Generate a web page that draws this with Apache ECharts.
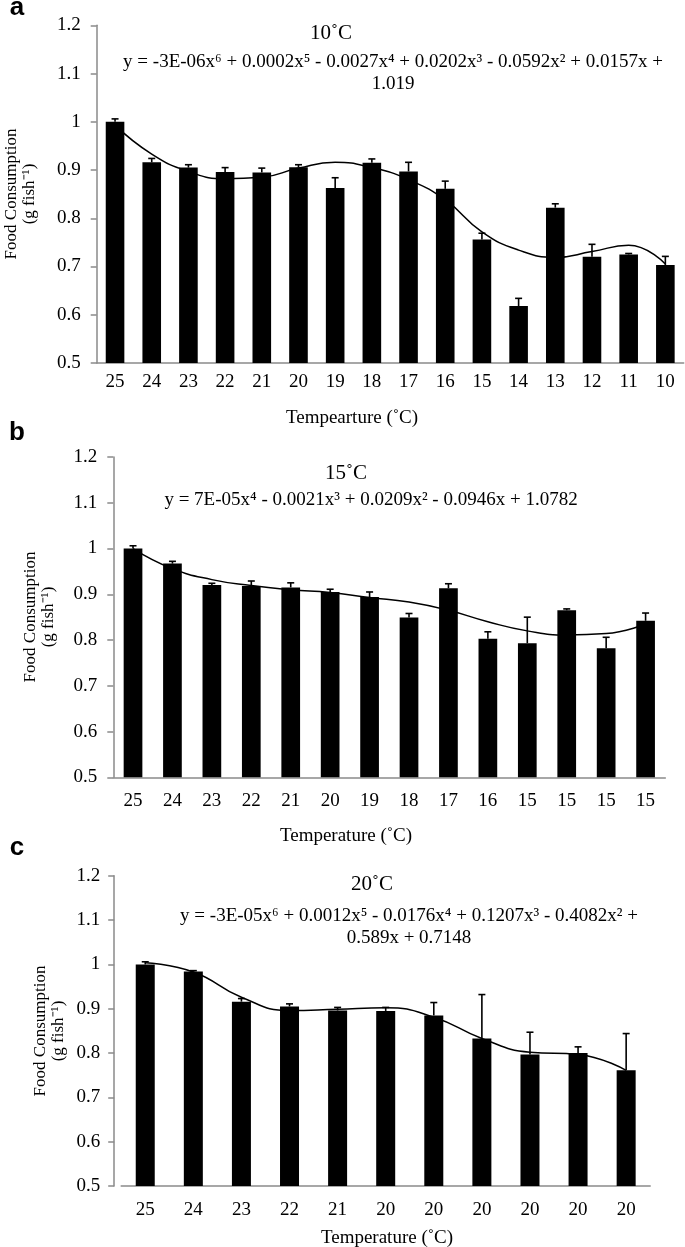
<!DOCTYPE html>
<html><head><meta charset="utf-8">
<script src="https://cdn.jsdelivr.net/npm/echarts@6/dist/echarts.min.js"></script>
<style>html,body{margin:0;padding:0;background:#fff}#c{width:685px;height:1247px}</style>
</head><body><div id="c"></div>
<script>
// ---- data ----
const catsA = ['25','24','23','22','21','20','19','18','17','16','15','14','13','12','11','10'];
const valsA = [1.000,0.916,0.905,0.896,0.895,0.906,0.863,0.915,0.897,0.861,0.756,0.618,0.822,0.720,0.725,0.703];
const errA  = [0.006,0.008,0.006,0.009,0.009,0.005,0.021,0.008,0.019,0.016,0.013,0.016,0.008,0.026,0.002,0.018];
const trendA = [0.993,0.933,0.897,0.882,0.885,0.904,0.916,0.905,0.880,0.838,0.772,0.734,0.719,0.731,0.744,0.705];

const catsB = ['25','24','23','22','21','20','19','18','17','16','15','15','15','15'];
const valsB = [1.000,0.967,0.920,0.918,0.915,0.905,0.894,0.849,0.913,0.803,0.793,0.865,0.782,0.842];
const errB  = [0.006,0.005,0.004,0.011,0.010,0.006,0.011,0.009,0.010,0.015,0.057,0.003,0.024,0.017];
const trendB = [1.000,0.956,0.932,0.919,0.910,0.904,0.893,0.883,0.865,0.840,0.820,0.811,0.814,0.835];

const catsC = ['25','24','23','22','21','20','20','20','20','20','20'];
const valsC = [1.000,0.984,0.916,0.905,0.896,0.895,0.885,0.833,0.797,0.800,0.761];
const errC  = [0.006,0.002,0.007,0.006,0.007,0.008,0.029,0.099,0.050,0.014,0.083];
const trendC = [1.004,0.983,0.926,0.896,0.899,0.902,0.881,0.833,0.802,0.797,0.761];

const yTicks = [0.5,0.6,0.7,0.8,0.9,1.0,1.1,1.2];
const titles = ['10˚C','15˚C','20˚C'];
const equations = [
  'y = -3E-06x⁶ + 0.0002x⁵ - 0.0027x⁴ + 0.0202x³ - 0.0592x² + 0.0157x +\n1.019',
  'y = 7E-05x⁴ - 0.0021x³ + 0.0209x² - 0.0946x + 1.0782',
  'y = -3E-05x⁶ + 0.0012x⁵ - 0.0176x⁴ + 0.1207x³ - 0.4082x² +\n0.589x + 0.7148'
];
const xNames = ['Tempearture (˚C)','Temperature (˚C)','Temperature (˚C)'];
const yName = 'Food Consumption\n(g fish⁻¹)';
const letters = ['a','b','c'];

// ---- chart ----
const SERIF = '"Liberation Serif","Times New Roman",serif';
const chart = echarts.init(document.getElementById('c'), null, {renderer:'canvas'});

const panels = [
  {cats:catsA, vals:valsA, err:errA, trend:trendA, grid:{left:96.7, top:25.3, width:587, height:337.7}, barW:18.6, xMargin:10, yMargin:16, yOffset:0},
  {cats:catsB, vals:valsB, err:errB, trend:trendB, grid:{left:113.3, top:457, width:552, height:320.3}, barW:18.7, xMargin:14, yMargin:16, yOffset:0},
  {cats:catsC, vals:valsC, err:errC, trend:trendC, grid:{left:121.2, top:875.8, width:529, height:310.2}, barW:19, xMargin:15, yMargin:14, yOffset:7}
];

const grids=[], xAxes=[], yAxes=[], series=[];
panels.forEach((p,i)=>{
  grids.push(Object.assign({containLabel:false}, p.grid));
  xAxes.push({
    type:'category', gridIndex:i, data:p.cats,
    axisLine:{show:true, lineStyle:{color:'#8a8a8a', width:1.5}},
    axisTick:{show:false},
    axisLabel:{color:'#000', fontFamily:SERIF, fontSize:19, margin:p.xMargin, interval:0}
  });
  yAxes.push({
    type:'value', gridIndex:i, min:0.5, max:1.2, interval:0.1, offset:p.yOffset,
    splitLine:{show:false},
    axisLine:{show:true, lineStyle:{color:'#8a8a8a', width:1.5}},
    axisTick:{show:true, length:6, lineStyle:{color:'#8a8a8a', width:1.5}},
    axisLabel:{color:'#000', fontFamily:SERIF, fontSize:19, margin:p.yMargin,
      formatter:v=>{const r=Math.round(v*10)/10; return yTicks.includes(r)? String(r):'';}}
  });
  series.push({
    type:'bar', xAxisIndex:i, yAxisIndex:i, data:p.vals, barWidth:p.barW,
    itemStyle:{color:'#000'}, z:2, silent:true
  });
  series.push({
    type:'custom', xAxisIndex:i, yAxisIndex:i, z:3, silent:true,
    data:p.vals.map((v,k)=>[k, v, p.err[k]]),
    encode:{x:0, y:1},
    renderItem:(params, api)=>{
      const k=api.value(0), v=api.value(1), e=api.value(2);
      const a=api.coord([k, v]), b=api.coord([k, v+e]);
      const hw=3.5;
      return {type:'group', children:[
        {type:'line', shape:{x1:a[0], y1:a[1], x2:b[0], y2:b[1]}, style:{stroke:'#000', lineWidth:1.6}},
        {type:'line', shape:{x1:b[0]-hw, y1:b[1], x2:b[0]+hw, y2:b[1]}, style:{stroke:'#000', lineWidth:1.6}}
      ]};
    }
  });
  series.push({
    type:'line', xAxisIndex:i, yAxisIndex:i, data:p.trend, smooth:0.5,
    showSymbol:false, symbol:'none', lineStyle:{color:'#000', width:1.5}, z:4, silent:true
  });
});

const txt = (x,y,text,font,extra)=>Object.assign({type:'text', x, y, silent:true,
  style:Object.assign({text, fill:'#000', font, align:'center', verticalAlign:'middle'}, extra||{})});

const graphic = [];
const letterY=[8,433,848];
const titleXY=[[331,33],[346,473],[372,884]];
const eqXY=[[393,73],[371,500],[409,927]];
const xNameXY=[[352,418],[346,836],[387,1238]];
const yNameXY=[[21,194],[40,617],[50,1031]];
letters.forEach((l,i)=>{
  graphic.push(txt(17,letterY[i],l,'bold 26px "Liberation Sans",Arial,sans-serif'));
  graphic.push(txt(titleXY[i][0],titleXY[i][1],titles[i],'21px '+SERIF));
  graphic.push(txt(eqXY[i][0],eqXY[i][1],equations[i],'19px '+SERIF,{lineHeight:22}));
  graphic.push(txt(xNameXY[i][0],xNameXY[i][1],xNames[i],'19px '+SERIF));
  graphic.push(Object.assign(txt(yNameXY[i][0],yNameXY[i][1],yName,'17px '+SERIF,{lineHeight:18}),{rotation:Math.PI/2}));
});

chart.setOption({
  animation:false, backgroundColor:'#fff',
  grid:grids, xAxis:xAxes, yAxis:yAxes, series, graphic
});
</script></body></html>
